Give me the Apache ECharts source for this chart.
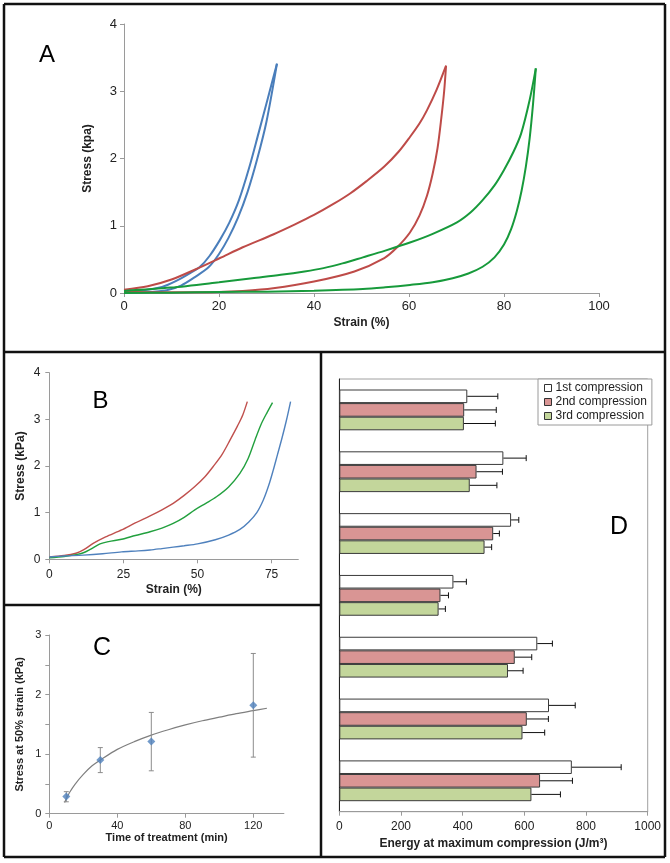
<!DOCTYPE html>
<html><head><meta charset="utf-8">
<script src="https://cdn.jsdelivr.net/npm/echarts@6/dist/echarts.min.js"></script>
<style>html,body{margin:0;padding:0;background:#fff}#c{width:670px;height:863px}</style>
</head><body><div id="c"></div>
<script>
// ---------- Panel A : loading / unloading loops ----------
const aBlueUpper = [[0,0.02],[4,0.04],[8,0.09],[11,0.18],[14,0.3],[16,0.39],[18,0.55],[20.2,0.79],[22.2,1.05],[24.2,1.38],[26.3,1.85],[28.3,2.37],[30.3,2.9],[32.2,3.41]];
const aBlueLower = [[0,0.0],[5,0.01],[9,0.04],[12,0.11],[15,0.24],[17.9,0.39],[20,0.58],[22,0.82],[24,1.12],[26,1.5],[28,1.98],[30,2.55],[32.2,3.41]];
const aRedUpper = [[0,0.05],[5,0.1],[10,0.2],[15,0.35],[20.2,0.52],[25,0.68],[31.4,0.87],[36,1.02],[40,1.16],[44,1.32],[47.6,1.48],[51,1.66],[54.8,1.88],[57.8,2.1],[60.2,2.32],[62.2,2.52],[63.8,2.72],[65.8,3.02],[67.8,3.38]];
const aRedLower = [[67.8,3.38],[67.4,3.0],[66.8,2.6],[66,2.15],[65,1.78],[63.8,1.45],[62.2,1.15],[60.2,0.9],[57.5,0.68],[54.8,0.52],[48.5,0.32],[40,0.17],[31.4,0.07],[25,0.03],[20,0.015],[12,0.01],[0,0.02]];
const aGreenUpper = [[0,0.03],[9.8,0.08],[20,0.16],[27,0.22],[33,0.27],[38,0.32],[42,0.37],[46,0.44],[50.3,0.53],[55,0.63],[60.2,0.75],[65,0.88],[70.1,1.05],[73,1.2],[75.5,1.38],[78,1.6],[80,1.83],[82,2.1],[83.6,2.37],[85.4,2.87],[86.7,3.34]];
const aGreenLower = [[86.7,3.34],[86.1,2.8],[85.4,2.3],[84.6,1.88],[83.7,1.52],[82.7,1.22],[81.5,0.95],[80,0.72],[78,0.53],[75.5,0.39],[72.5,0.29],[69.2,0.22],[65,0.16],[60.2,0.12],[55,0.085],[50.3,0.06],[40,0.035],[30,0.02],[20,0.015],[10,0.005],[0,0.0]];

// ---------- Panel B : loading curves ----------
const bRed = [[0,0.05],[5,0.08],[9,0.13],[11.5,0.2],[14.8,0.34],[19,0.48],[24.4,0.63],[29,0.78],[34,0.93],[38,1.06],[41.8,1.2],[45.5,1.37],[49.1,1.56],[52.5,1.77],[55.3,1.99],[58.3,2.25],[61,2.56],[63.5,2.86],[65.3,3.1],[66.8,3.38]];
const bGreen = [[0,0.03],[5,0.06],[9,0.1],[11.5,0.14],[14,0.22],[17.1,0.33],[20,0.38],[24.4,0.43],[29,0.51],[34,0.59],[38,0.67],[41.8,0.77],[45.5,0.9],[49.1,1.06],[52.8,1.2],[56.4,1.34],[60.5,1.55],[64.3,1.84],[67,2.15],[69.4,2.56],[71.5,2.9],[73.5,3.15],[75.3,3.36]];
const bBlue = [[0,0.05],[5,0.07],[11.5,0.09],[18,0.12],[24.4,0.16],[30,0.18],[34,0.2],[38,0.23],[41.8,0.26],[45.5,0.29],[50,0.33],[56,0.42],[60.5,0.52],[64.3,0.64],[67.3,0.8],[70,1.0],[72.2,1.27],[74,1.58],[75.5,1.9],[77,2.25],[78.5,2.6],[80,2.98],[81.4,3.38]];

// ---------- Panel C : stress at 50% strain vs time ----------
const cTime = [10, 30, 60, 120];
const cStress = [0.29, 0.9, 1.21, 1.82];
const cLow = [0.2, 0.69, 0.72, 0.95];
const cHigh = [0.37, 1.11, 1.7, 2.69];
const cTrendX = [9, 10, 12, 15, 20, 25, 30, 40, 50, 60, 70, 80, 90, 100, 110, 120, 128];
const cTrendY = [0.19, 0.25, 0.36, 0.49, 0.66, 0.8, 0.9, 1.08, 1.21, 1.32, 1.41, 1.49, 1.56, 1.62, 1.68, 1.73, 1.77];

// ---------- Panel D : energy at maximum compression ----------
const dGroups = ['1', '2', '3', '4', '5', '6', '7'];
const dNames = ['1st compression', '2nd compression', '3rd compression'];
const dFirst = [415, 532, 557, 370, 642, 680, 754];
const dFirstSD = [99, 74, 25, 42, 49, 85, 160];
const dSecond = [405, 445, 499, 328, 569, 608, 651];
const dSecondSD = [104, 84, 20, 26, 55, 70, 105];
const dThird = [404, 423, 471, 322, 547, 594, 623];
const dThirdSD = [102, 88, 23, 22, 49, 72, 94];

// tick labels
const bXTicks = [0, 25, 50, 75];
const cXTicks = [0, 40, 80, 120];

const FONT = 'Liberation Sans';
const AXC = '#9a9a9a';
const LBL = '#222';

function valAxis(grid, o) {
  return Object.assign({
    type: 'value', gridIndex: grid,
    axisLine: {show: true, lineStyle: {color: AXC, width: 1}},
    axisTick: {show: true, length: 4, lineStyle: {color: AXC}},
    splitLine: {show: false},
    axisLabel: {color: LBL, fontFamily: FONT, fontSize: 12},
    nameLocation: 'middle',
    nameTextStyle: {color: LBL, fontFamily: FONT, fontWeight: 'bold', fontSize: 12}
  }, o);
}
function lineS(x, y, data, color, w) {
  return {type: 'line', xAxisIndex: x, yAxisIndex: y, data: data, showSymbol: false,
    smooth: 0.3, lineStyle: {color: color, width: w}, itemStyle: {color: color}, silent: true, z: 3};
}

const dBars = [dFirst, dSecond, dThird];
const dSDs = [dFirstSD, dSecondSD, dThirdSD];
const dFill = ['#ffffff', '#D99594', '#C3D69B'];
const GAP = 0.34;

const series = [
  lineS(0, 0, aBlueUpper, '#4A7EBB', 2), lineS(0, 0, aBlueLower, '#4A7EBB', 2),
  lineS(0, 0, aRedUpper, '#BE4B48', 2), lineS(0, 0, aRedLower, '#BE4B48', 2),
  lineS(0, 0, aGreenUpper, '#179A3B', 2), lineS(0, 0, aGreenLower, '#179A3B', 2),
  lineS(1, 1, bRed, '#C0504D', 1.4), lineS(1, 1, bGreen, '#22A03E', 1.4), lineS(1, 1, bBlue, '#4F81BD', 1.4),
  {type: 'line', xAxisIndex: 2, yAxisIndex: 2, data: cTrendX.map((x, i) => [x, cTrendY[i]]),
    showSymbol: false, smooth: 0.3, lineStyle: {color: '#7f7f7f', width: 1.2}, silent: true, z: 2},
  {type: 'custom', xAxisIndex: 2, yAxisIndex: 2, z: 3,
    data: cTime.map((t, i) => [t, cLow[i], cHigh[i]]),
    renderItem: function (p, api) {
      const lo = api.coord([api.value(0), api.value(1)]);
      const hi = api.coord([api.value(0), api.value(2)]);
      const st = {stroke: '#8c8c8c', lineWidth: 1};
      return {type: 'group', children: [
        {type: 'line', shape: {x1: lo[0], y1: lo[1], x2: hi[0], y2: hi[1]}, style: st},
        {type: 'line', shape: {x1: lo[0] - 2.5, y1: lo[1], x2: lo[0] + 2.5, y2: lo[1]}, style: st},
        {type: 'line', shape: {x1: hi[0] - 2.5, y1: hi[1], x2: hi[0] + 2.5, y2: hi[1]}, style: st}
      ]};
    }},
  {type: 'scatter', xAxisIndex: 2, yAxisIndex: 2, data: cTime.map((t, i) => [t, cStress[i]]),
    symbol: 'diamond', symbolSize: 8, itemStyle: {color: '#4F81BD'}, z: 4}
];

dBars.forEach((vals, k) => {
  series.push({type: 'bar', name: dNames[k], xAxisIndex: 3, yAxisIndex: 3, data: vals,
    barGap: '0%', barCategoryGap: (GAP * 100) + '%',
    itemStyle: {color: dFill[k], borderColor: '#3a3a3a', borderWidth: 1}, z: 2});
});
dBars.forEach((vals, k) => {
  series.push({type: 'custom', xAxisIndex: 3, yAxisIndex: 3, z: 3,
    data: vals.map((v, i) => [v, i, dSDs[k][i]]),
    encode: {x: 0, y: 1},
    renderItem: function (p, api) {
      const v = api.value(0), cat = api.value(1), sd = api.value(2);
      const band = api.size([0, 1])[1];
      const bw = band * (1 - GAP) / 3;
      const c = api.coord([v, cat]);
      const e = api.coord([v + sd, cat]);
      const y = c[1] + (k - 1) * bw;
      const st = {stroke: '#111', lineWidth: 1};
      return {type: 'group', children: [
        {type: 'line', shape: {x1: c[0], y1: y, x2: e[0], y2: y}, style: st},
        {type: 'line', shape: {x1: e[0], y1: y - 3, x2: e[0], y2: y + 3}, style: st}
      ]};
    }});
});

function border(x1, y1, x2, y2) {
  return {type: 'line', shape: {x1, y1, x2, y2}, style: {stroke: '#111', lineWidth: 2.5}, z: 100};
}
function letter(t, x, y, s) {
  return {type: 'text', x: x, y: y, z: 100, style: {text: t, fill: '#000', font: s + 'px ' + FONT,
    textAlign: 'center', textVerticalAlign: 'middle', align: 'center', verticalAlign: 'middle'}};
}

const option = {
  backgroundColor: '#fff',
  animation: false,
  grid: [
    {left: 124, top: 24, width: 475, height: 269},
    {left: 49.3, top: 372.7, width: 249, height: 186.6},
    {left: 49.3, top: 635, width: 234.6, height: 178.7},
    {left: 339.3, top: 379, width: 308.4, height: 432.7, show: true, borderColor: '#a0a0a0', borderWidth: 1}
  ],
  xAxis: [
    valAxis(0, {min: 0, max: 100, interval: 20, name: 'Strain (%)', nameGap: 24,
      axisLabel: {color: LBL, fontFamily: FONT, fontSize: 13, margin: 7}}),
    valAxis(1, {min: 0, max: 84, name: 'Strain (%)', nameGap: 24,
      axisTick: {show: true, length: 4, lineStyle: {color: AXC}, customValues: bXTicks},
      axisLabel: {color: LBL, fontFamily: FONT, fontSize: 12, margin: 9, customValues: bXTicks}}),
    valAxis(2, {min: 0, max: 138, name: 'Time of treatment (min)', nameGap: 16,
      nameTextStyle: {color: LBL, fontFamily: FONT, fontWeight: 'bold', fontSize: 11},
      axisTick: {show: true, length: 4, lineStyle: {color: AXC}, customValues: cXTicks},
      axisLabel: {color: LBL, fontFamily: FONT, fontSize: 11, margin: 7, customValues: cXTicks}}),
    valAxis(3, {min: 0, max: 1000, interval: 200, name: 'Energy at maximum compression (J/m³)', nameGap: 22,
      axisLabel: {color: LBL, fontFamily: FONT, fontSize: 12, margin: 9, formatter: v => String(v)}})
  ],
  yAxis: [
    valAxis(0, {min: 0, max: 4, interval: 1, name: 'Stress (kpa)', nameGap: 30,
      axisLabel: {color: LBL, fontFamily: FONT, fontSize: 13, margin: 7}}),
    valAxis(1, {min: 0, max: 4, interval: 1, name: 'Stress (kPa)', nameGap: 23,
      axisLabel: {color: LBL, fontFamily: FONT, fontSize: 12, margin: 9}}),
    valAxis(2, {min: 0, max: 3, interval: 0.5, name: 'Stress at 50% strain (kPa)', nameGap: 24,
      nameTextStyle: {color: LBL, fontFamily: FONT, fontWeight: 'bold', fontSize: 11},
      axisLabel: {color: LBL, fontFamily: FONT, fontSize: 11, margin: 8,
        formatter: v => (Math.abs(v - Math.round(v)) < 1e-9 ? String(v) : '')}}),
    {type: 'category', gridIndex: 3, data: dGroups, inverse: true,
      axisLine: {show: true, lineStyle: {color: '#222', width: 1}},
      axisTick: {show: false}, axisLabel: {show: false}, splitLine: {show: false}}
  ],
  legend: {
    show: true, data: dNames, orient: 'vertical', left: 538, top: 379,
    backgroundColor: '#fff', borderColor: '#9a9a9a', borderWidth: 1,
    padding: [2, 5, 2, 6], itemGap: 0, itemWidth: 7, itemHeight: 7, icon: 'rect',
    selectedMode: false,
    itemStyle: {borderColor: '#333', borderWidth: 1},
    textStyle: {color: LBL, fontFamily: FONT, fontSize: 12, lineHeight: 14, padding: [0, 0, 0, -1]}
  },
  graphic: [
    border(4, 4, 665, 4), border(4, 857, 665, 857), border(4, 4, 4, 857), border(665, 4, 665, 857),
    border(4, 352, 665, 352), border(321, 352, 321, 857), border(4, 605, 321, 605),
    letter('A', 47, 55, 24), letter('B', 100.5, 401.5, 24), letter('C', 102, 648, 25), letter('D', 619, 527, 25)
  ],
  series: series
};
const chart = echarts.init(document.getElementById('c'), null, {renderer: 'canvas'});
chart.setOption(option);
</script>
</body></html>
